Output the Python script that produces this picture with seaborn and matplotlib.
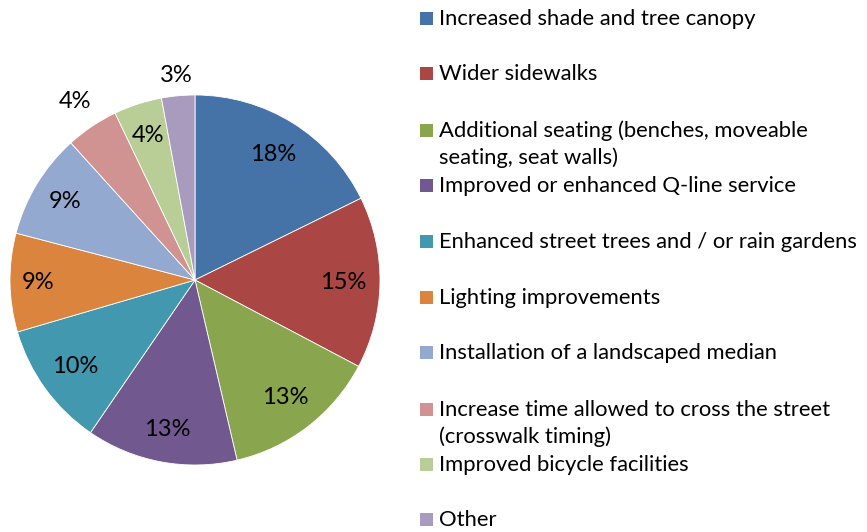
import matplotlib
matplotlib.use("Agg")
from matplotlib import pyplot as plt
from matplotlib.patches import Rectangle
import numpy as np
import seaborn as sns

categories = [
    "Increased shade and tree canopy",
    "Wider sidewalks",
    "Additional seating (benches, moveable\nseating, seat walls)",
    "Improved or enhanced Q-line service",
    "Enhanced street trees and / or rain gardens",
    "Lighting improvements",
    "Installation of a landscaped median",
    "Increase time allowed to cross the street\n(crosswalk timing)",
    "Improved bicycle facilities",
    "Other",
]
# slice shares as measured from the wedge angles
shares = [17.7, 15.0, 13.6, 13.2, 10.9, 8.6, 9.2, 4.6, 4.2, 2.9]
# percent labels as printed on the chart
pct_labels = ["18%", "15%", "13%", "13%", "10%", "9%", "9%", "4%", "4%", "3%"]
colors = ["#4572A7", "#AA4643", "#89A54E", "#71588F", "#4198AF",
          "#DB843D", "#93A9CF", "#D19392", "#B9CD96", "#A99BBD"]

sns.set_theme(style="white")
plt.rcParams['font.family'] = ['Lato', 'DejaVu Sans']

W, H = 867, 532
fig = plt.figure(figsize=(W / 100, H / 100), dpi=100)

# pie centred near (195, 280) px, radius ~185 px
cx, cy, r = 195, 280, 185
ax = fig.add_axes([(cx - r) / W, 1 - (cy + r) / H, 2 * r / W, 2 * r / H])
wedges, _ = ax.pie(shares, colors=colors, startangle=90, counterclock=False,
                   wedgeprops=dict(edgecolor="white", linewidth=0.6))
ax.set_xlim(-1, 1)
ax.set_ylim(-1, 1)
ax.set_aspect("equal")
ax.axis("off")

label_dist = [0.8, 0.8, 0.8, 0.82, 0.8, 0.85, 0.82, 1.16, 0.82, 1.11]
for w, txt, d in zip(wedges, pct_labels, label_dist):
    ang = np.deg2rad((w.theta1 + w.theta2) / 2)
    ax.text(d * np.cos(ang), d * np.sin(ang), txt, ha="center", va="center",
            fontsize=17, color="black", clip_on=False)

# legend drawn by hand to keep the even row spacing of the original
row_y = [18, 73, 130, 185, 241, 297, 352, 409, 464, 519]
for name, col, y in zip(categories, colors, row_y):
    fig.add_artist(Rectangle((420 / W, 1 - (y + 7) / H), 13 / W, 13 / H,
                             transform=fig.transFigure, facecolor=col,
                             edgecolor="none"))
    for i, line in enumerate(name.split("\n")):
        fig.text(439 / W, 1 - (y + 7 + 27 * i) / H, line, ha="left",
                 va="baseline", fontsize=15.8, color="black")

fig.savefig("out.png", dpi=100)
